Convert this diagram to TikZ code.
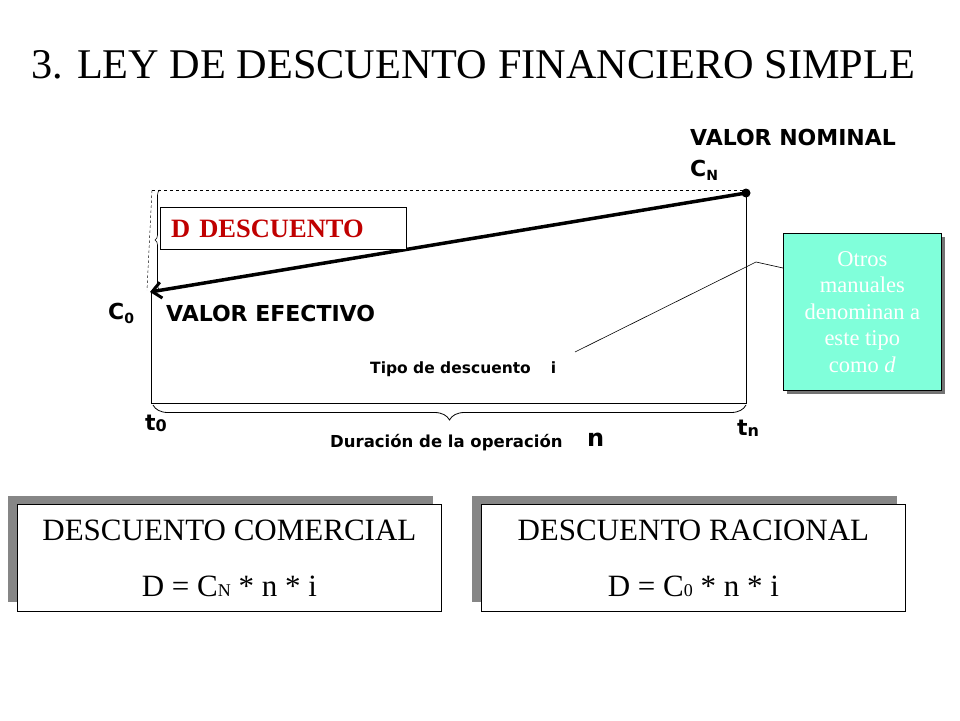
\documentclass[tikz,border=0pt]{standalone}
\usepackage{fontspec}
\setmainfont{Liberation Serif}
\setsansfont{DejaVu Sans}
\usetikzlibrary{decorations.pathreplacing,arrows.meta}
\definecolor{aqua}{HTML}{80FFDA}
\definecolor{dred}{HTML}{C00000}
\newcommand{\lf}[1]{\sffamily\bfseries\fontsize{#1}{#1}\selectfont}
\tikzset{
  lbl/.style={inner sep=0pt, anchor=west},
  fbox/.style={draw, fill=white, minimum width=424pt, minimum height=107pt, align=center, font=\fontsize{31}{56}\selectfont, line width=0.8pt},
  shadowbox/.style={fill=gray!95, minimum width=425pt, minimum height=106pt, inner sep=0pt}
}
\begin{document}
\begin{tikzpicture}[x=1pt,y=-1pt]
\useasboundingbox (0,0) rectangle (960,720);
\node[anchor=west, font=\fontsize{42.3}{44}\selectfont, inner sep=0pt] (title) at (31,65) {3. LEY DE DESCUENTO FINANCIERO SIMPLE};

\node[lbl, font=\lf{22}] (vn) at (690,137) {VALOR NOMINAL};
\node[lbl, font=\lf{22}] (cn) at (690,170) {C\raisebox{-4pt}{\lf{14}N}};

\coordinate (A) at (746,193);
\coordinate (B) at (150,292);
\coordinate (TL) at (152,190);
\coordinate (BL) at (151,403);
\coordinate (BR) at (746,403);
\fill (A) circle (4.5);
\draw[dashed, line width=0.6pt] (TL) -- (A|-TL);
\draw[densely dashed, line width=0.4pt] (TL) -- (147,290);
\draw[decorate, decoration={brace, amplitude=5pt}, line width=0.6pt] (160,290) -- (160,190);
\draw[line width=3.5pt, -{Straight Barb[length=9pt,width=16pt,line width=3pt]}] (A) -- (B);
\draw[line width=0.8pt] (A) -- (BR) -- (BL) -- (151,292);
\draw[decorate, decoration={brace, amplitude=15pt, mirror}, line width=0.8pt] (153,405) -- (746,405);

\node[draw, line width=1pt, fill=white, minimum width=246pt, minimum height=42pt, anchor=north west, inner sep=0pt] (db) at (160,207) {};
\node[anchor=west, text=dred, font=\bfseries\fontsize{26.5}{28}\selectfont, inner sep=0pt] (dt) at (171,229) {D\hspace{9pt}DESCUENTO};

\node[lbl, font=\lf{22}] (c0) at (108,313) {C\raisebox{-4pt}{\lf{14}0}};
\node[lbl, font=\lf{22}] (ve) at (166,313) {VALOR EFECTIVO};
\node[lbl, font=\lf{15.5}] (tipo) at (370,369) {Tipo de descuento\hspace{20pt}i};

\fill[black!55] (787,237) rectangle (945,394);
\node[draw, line width=0.6pt, fill=aqua, minimum width=158pt, minimum height=157pt, anchor=north west, inner sep=0pt] (call) at (783,233) {};
\node[text=white, align=center, font=\fontsize{22.5}{26.5}\selectfont] (ct) at (call.center) {Otros\\manuales\\denominan a\\este tipo\\como \textit{d}};
\coordinate (k) at (756,262);
\draw[line width=0.6pt] (call.west |- 0,268) -- (k) -- (575,352);

\node[lbl, font=\lf{22}] (t0) at (145,423) {t\raisebox{-1pt}{\lf{16}0}};
\node[lbl, font=\lf{22}] (tn) at (737,428) {t\raisebox{-1pt}{\lf{16}n}};
\node[lbl, font=\lf{16.5}] (dur) at (330,443) {Duración de la operación};
\node[lbl, font=\lf{24}] (n) at (587,440) {n};

\node[shadowbox, anchor=north west] (s1) at (8,496) {};
\node[fbox, anchor=north west] (b1) at (17,504) {DESCUENTO COMERCIAL\\D = C\raisebox{0pt}{\fontsize{18}{18}\selectfont N} * n * i};
\node[shadowbox, anchor=north west] (s2) at (472,496) {};
\node[fbox, anchor=north west] (b2) at (481,504) {DESCUENTO RACIONAL\\D = C\raisebox{0pt}{\fontsize{18}{18}\selectfont 0} * n * i};
\end{tikzpicture}
\end{document}
